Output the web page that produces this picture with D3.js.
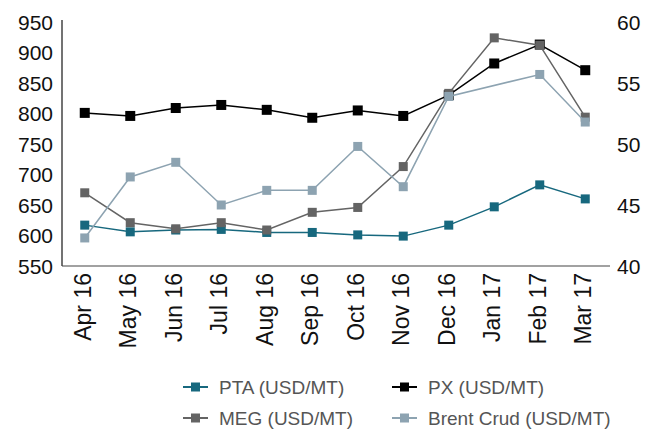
<!DOCTYPE html>
<html><head><meta charset="utf-8">
<script src="https://cdn.jsdelivr.net/npm/d3@7/dist/d3.min.js"></script>
<style>body{margin:0;background:#fff}svg{display:block}</style>
</head><body><svg id="c" width="645" height="430"></svg>
<script>
const months = ["Apr 16","May 16","Jun 16","Jul 16","Aug 16","Sep 16","Oct 16","Nov 16","Dec 16","Jan 17","Feb 17","Mar 17"];
const pta   = [617,606,609,610,605,605,601,599,617,647,683,660];
const px    = [801,796,809,814,806,793,805,796,830,882,913,871];
const meg   = [670,621,611,621,609,638,646,713,833,924,912,794];
const brent = [42.3,47.3,48.5,45.0,46.2,46.2,49.8,46.5,53.9,null,55.7,51.8];
const leftTicks = [550,600,650,700,750,800,850,900,950];
const rightTicks = [40,45,50,55,60];

const series = [
  {name:"PTA (USD/MT)", values:pta, color:"#17687e", axis:"L", size:9},
  {name:"PX (USD/MT)", values:px, color:"#000000", axis:"L", size:10},
  {name:"MEG (USD/MT)", values:meg, color:"#646464", axis:"L", size:9},
  {name:"Brent Crud (USD/MT)", values:brent, color:"#8da3b1", axis:"R", size:9}
];

const svg = d3.select("#c");
const m = {left:62, right:608, top:22, bottom:266};
const x = d3.scaleBand().domain(months).range([m.left, m.right]);
const yL = d3.scaleLinear().domain([550,950]).range([m.bottom, m.top]);
const yR = d3.scaleLinear().domain([40,60]).range([m.bottom, m.top]);
const font = "'Liberation Sans', Arial, sans-serif";

// axes lines
svg.append("line").attr("x1",m.left).attr("x2",m.left).attr("y1",20).attr("y2",m.bottom)
  .attr("stroke","#444").attr("stroke-width",1.5);
svg.append("line").attr("x1",m.left).attr("x2",610).attr("y1",m.bottom).attr("y2",m.bottom)
  .attr("stroke","#444").attr("stroke-width",1.2);

svg.append("g").selectAll("text").data(leftTicks).join("text")
  .attr("x",53).attr("y",d=>yL(d)).attr("dy","0.36em")
  .attr("text-anchor","end").attr("font-family",font).attr("font-size",21)
  .attr("fill","#111").text(d=>d);
svg.append("g").selectAll("text").data(rightTicks).join("text")
  .attr("x",617).attr("y",d=>yR(d)).attr("dy","0.36em")
  .attr("text-anchor","start").attr("font-family",font).attr("font-size",21)
  .attr("fill","#111").text(d=>d);

// x labels
svg.append("g").selectAll("text").data(months).join("text")
  .attr("transform",d=>`translate(${x(d)+x.bandwidth()/2+6},273) rotate(-90)`)
  .attr("text-anchor","end").attr("font-family",font).attr("font-size",23)
  .attr("fill","#111").text(d=>d);

// series
series.forEach(s=>{
  const y = s.axis==="L"? yL : yR;
  const pts = s.values.map((v,i)=>({m:months[i], v})).filter(p=>p.v!=null);
  const line = d3.line().x(p=>x(p.m)+x.bandwidth()/2).y(p=>y(p.v));
  svg.append("path").datum(pts).attr("d",line).attr("fill","none")
    .attr("stroke",s.color).attr("stroke-width",1.5);
  svg.append("g").selectAll("rect").data(pts).join("rect")
    .attr("x",p=>x(p.m)+x.bandwidth()/2-s.size/2).attr("y",p=>y(p.v)-s.size/2)
    .attr("width",s.size).attr("height",s.size).attr("fill",s.color);
});

// legend
const legPos = [[183,387],[392,387],[183,418],[392,418]];
series.forEach((s,i)=>{
  const [lx,ly] = legPos[i];
  const g = svg.append("g");
  g.append("line").attr("x1",lx).attr("x2",lx+25).attr("y1",ly).attr("y2",ly)
    .attr("stroke",s.color).attr("stroke-width",2);
  g.append("rect").attr("x",lx+12.5-4.5).attr("y",ly-4.5).attr("width",9).attr("height",9).attr("fill",s.color);
  g.append("text").attr("x",lx+36).attr("y",ly).attr("dy","0.35em")
    .attr("font-family",font).attr("font-size",19).attr("fill","#555").text(s.name);
});
</script></body></html>
